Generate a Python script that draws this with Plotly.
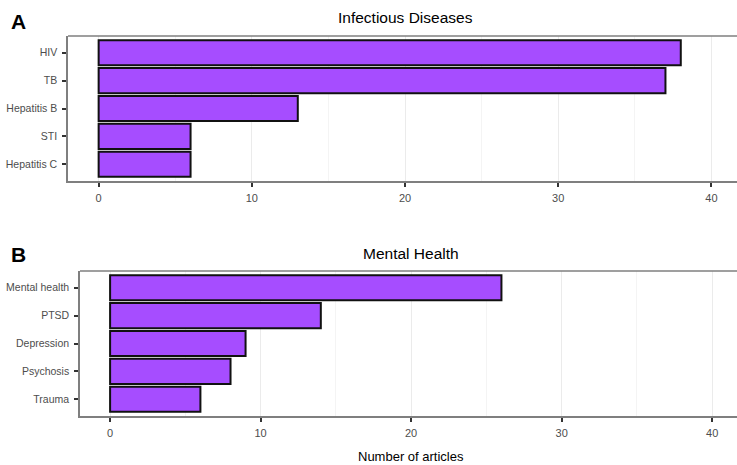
import plotly.graph_objects as go

# Panel A: infectious diseases
infect_cats = ["HIV", "TB", "Hepatitis B", "STI", "Hepatitis C"]
infect_vals = [38, 37, 13, 6, 6]

# Panel B: mental health
mental_cats = ["Mental health", "PTSD", "Depression", "Psychosis", "Trauma"]
mental_vals = [26, 14, 9, 8, 6]

x_ticks = [0, 10, 20, 30, 40]
x_minor = [5, 15, 25, 35]

W, H = 737, 465
FILL = "#A64DFF"
FONT = "Liberation Sans, Arial, Helvetica, sans-serif"
BORDER = "#7f7f7f"

fig = go.Figure()

fig.add_trace(go.Bar(
    x=infect_vals, y=infect_cats, orientation="h", width=0.9,
    marker=dict(color=FILL, line=dict(color="#111111", width=2)),
    xaxis="x", yaxis="y", showlegend=False,
))
fig.add_trace(go.Bar(
    x=mental_vals, y=mental_cats, orientation="h", width=0.9,
    marker=dict(color=FILL, line=dict(color="#111111", width=2)),
    xaxis="x2", yaxis="y2", showlegend=False,
))

# panel pixel boxes (left, top, bottom)
pa = dict(left=68, top=36, bottom=181)
pb = dict(left=80, top=271, bottom=416)


def xaxis_cfg(left, rng, anchor):
    return dict(
        domain=[left / W, 1.0], range=rng, anchor=anchor,
        tickvals=x_ticks, ticks="outside", ticklen=4, tickwidth=1.5,
        tickcolor="#333333", ticklabelstandoff=2,
        tickfont=dict(size=11, color="#4d4d4d", family=FONT),
        showgrid=True, gridcolor="#ebebeb", gridwidth=1,
        minor=dict(tickvals=x_minor, showgrid=True, gridcolor="#f4f4f4",
                   gridwidth=1, ticks=""),
        showline=True, linecolor=BORDER, linewidth=1.5,
        zeroline=False, fixedrange=True,
    )


def yaxis_cfg(top, bottom, cats, anchor):
    return dict(
        domain=[1 - bottom / H, 1 - top / H], anchor=anchor,
        categoryorder="array", categoryarray=cats,
        range=[len(cats) - 0.4, -0.6],
        ticks="outside", ticklen=4, tickwidth=1.5, tickcolor="#333333",
        ticklabelstandoff=3,
        tickfont=dict(size=10.5, color="#4d4d4d", family=FONT),
        showgrid=False, showline=True, linecolor=BORDER, linewidth=1.5,
        zeroline=False, fixedrange=True,
    )


fig.update_layout(
    width=W, height=H,
    margin=dict(l=0, r=0, t=0, b=0),
    paper_bgcolor="white", plot_bgcolor="white",
    bargap=0.1,
    font=dict(family=FONT, color="#000000"),
    xaxis=xaxis_cfg(pa["left"], [-2, 41.67], "y"),
    yaxis=yaxis_cfg(pa["top"], pa["bottom"], infect_cats, "x"),
    xaxis2=xaxis_cfg(pb["left"], [-2, 41.65], "y2"),
    yaxis2=yaxis_cfg(pb["top"], pb["bottom"], mental_cats, "x2"),
)

# top borders of the two panels
for p in (pa, pb):
    fig.add_shape(type="line", xref="paper", yref="paper",
                  x0=p["left"] / W, x1=1.0,
                  y0=1 - p["top"] / H, y1=1 - p["top"] / H,
                  line=dict(color=BORDER, width=1.5), layer="above")

annotations = [
    dict(text="Infectious Diseases", x=405 / W, y=1 - 17 / H,
         font=dict(size=15.5, color="#000000")),
    dict(text="Mental Health", x=411 / W, y=1 - 253 / H,
         font=dict(size=15.5, color="#000000")),
    dict(text="<b>A</b>", x=18.5 / W, y=1 - 21 / H,
         font=dict(size=21, color="#000000")),
    dict(text="<b>B</b>", x=18 / W, y=1 - 255 / H,
         font=dict(size=21, color="#000000")),
    dict(text="Number of articles", x=411 / W, y=1 - 456 / H,
         font=dict(size=13, color="#000000")),
]
for a in annotations:
    fig.add_annotation(xref="paper", yref="paper", showarrow=False,
                       xanchor="center", yanchor="middle",
                       font_family=FONT, **{k: v for k, v in a.items()})

fig.write_html("out.html")
